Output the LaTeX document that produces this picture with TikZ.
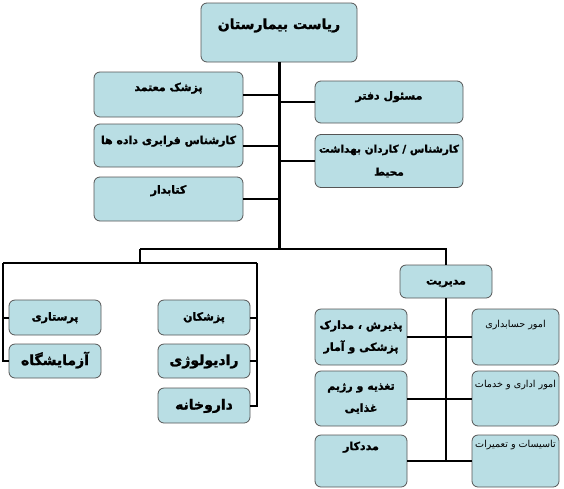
\documentclass[tikz,border=0pt]{standalone}
\usepackage{fontspec}
\usepackage{tikz}
\newfontfamily\farsi[Script=Arabic, BoldFeatures={FakeBold=1.6}]{DejaVu Sans}
\TeXXeTstate=1
\newcommand{\fa}[1]{\beginR #1\endR}
\definecolor{boxfill}{RGB}{185,222,228}
\definecolor{boxrim}{RGB}{85,85,85}
\tikzset{
  unit/.style={draw=boxrim, fill=boxfill, line width=0.8pt, rounded corners=6pt,
    inner sep=0pt, text height=9pt, text depth=3pt,
    font=\farsi\bfseries\fontsize{11}{22}\selectfont},
  twoline/.style={unit, align=center, text height={}, text depth={}},
  big/.style={font=\farsi\bfseries\fontsize{14}{17}\selectfont, text height=11pt},
  thin/.style={font=\farsi\fontsize{9.6}{11}\selectfont, text height=7pt},
  link/.style={line width=2pt},
}

\begin{document}
\begin{tikzpicture}[x=1pt, y=-1pt]
  \useasboundingbox (0,0) rectangle (564,488);
  % junction points of the tree
  \coordinate (hub) at (279,249);
  \coordinate (lefthub) at (140,249);
  \coordinate (clinic) at (140,263);
  \coordinate (wardrail) at (3,263);
  \coordinate (medrail) at (257,263);

  % top part
  \node[unit, minimum width=156, minimum height=59, text depth=19pt,
    font=\farsi\bfseries\fontsize{14}{18}\selectfont, text height=12pt] (boss) at (279,32.5) {\fa{ریاست بیمارستان}};
  \node[unit, minimum width=149, minimum height=45, text depth=16pt] (trusted) at (168.5,94.5) {\fa{پزشک معتمد}};
  \node[unit, minimum width=149, minimum height=43, text depth=12pt] (data) at (168.5,145.5) {\fa{کارشناس فرابری داده ها}};
  \node[unit, minimum width=149, minimum height=44, text depth=20pt] (library) at (168.5,199) {\fa{کتابدار}};
  \node[unit, minimum width=148, minimum height=42, text depth=14pt] (office) at (389,102) {\fa{مسئول دفتر}};
  \node[twoline, minimum width=148, minimum height=53,
    font=\farsi\bfseries\fontsize{10.5}{23}\selectfont] (health) at (389,161) {\fa{کارشناس / کاردان بهداشت}\\\fa{محیط}};

  \draw[line width=3pt] (boss.south) -- (hub);
  \draw[link] (trusted.east) -- (trusted.east -| hub);
  \draw[link] (data.east) -- (data.east -| hub);
  \draw[link] (library.east) -- (library.east -| hub);
  \draw[link] (office.west) -- (office.west -| hub);
  \draw[link] (health.west) -- (health.west -| hub);

  % lower part
  \node[unit, minimum width=92, minimum height=33] (manage) at (446,281.5) {\fa{مدیریت}};
  \node[unit, minimum width=92, minimum height=35] (nursing) at (55,317.5) {\fa{پرستاری}};
  \node[unit, big, minimum width=92, minimum height=34] (lab) at (55,361) {\fa{آزمایشگاه}};
  \node[unit, minimum width=92, minimum height=35] (doctors) at (204,317.5) {\fa{پزشکان}};
  \node[unit, big, minimum width=92, minimum height=34] (radio) at (204,361) {\fa{رادیولوژی}};
  \node[unit, big, minimum width=92, minimum height=35] (pharmacy) at (204,405.5) {\fa{داروخانه}};
  \node[twoline, minimum width=92, minimum height=56] (records) at (361,337) {\fa{پذیرش ، مدارک}\\\fa{پزشکی و آمار}};
  \node[twoline, minimum width=92, minimum height=55] (diet) at (361,398.5) {\fa{تغذیه و رژیم}\\\fa{غذایی}};
  \node[unit, minimum width=92, minimum height=52, text depth=31pt] (social) at (361,461) {\fa{مددکار}};
  \node[unit, thin, minimum width=87, minimum height=56, text depth=27pt] (account) at (515.5,337) {\fa{امور حسابداری}};
  \node[unit, thin, minimum width=87, minimum height=55, text depth=29pt] (service) at (515.5,398.5) {\fa{امور اداری و خدمات}};
  \node[unit, thin, minimum width=87, minimum height=52, text depth=35pt] (repair) at (515.5,461) {\fa{تاسیسات و تعمیرات}};

  \draw[link] (lefthub) -- (hub) -| (manage.north);
  \draw[link] (lefthub) -- (clinic);
  \draw[link] (wardrail) -- (medrail);
  \draw[link] (wardrail) |- (lab.west);
  \draw[link] (nursing.west) -- (nursing.west -| wardrail);
  \draw[link] (medrail) |- (pharmacy.east);
  \draw[link] (doctors.east) -- (doctors.east -| medrail);
  \draw[link] (radio.east) -- (radio.east -| medrail);
  \draw[line width=2.6pt] (manage.south) -- (manage.south |- social.east);
  \draw[link] (records.east) -- (account.west);
  \draw[link] (diet.east) -- (service.west);
  \draw[link] (social.east) -- (repair.west);
\end{tikzpicture}
\end{document}
